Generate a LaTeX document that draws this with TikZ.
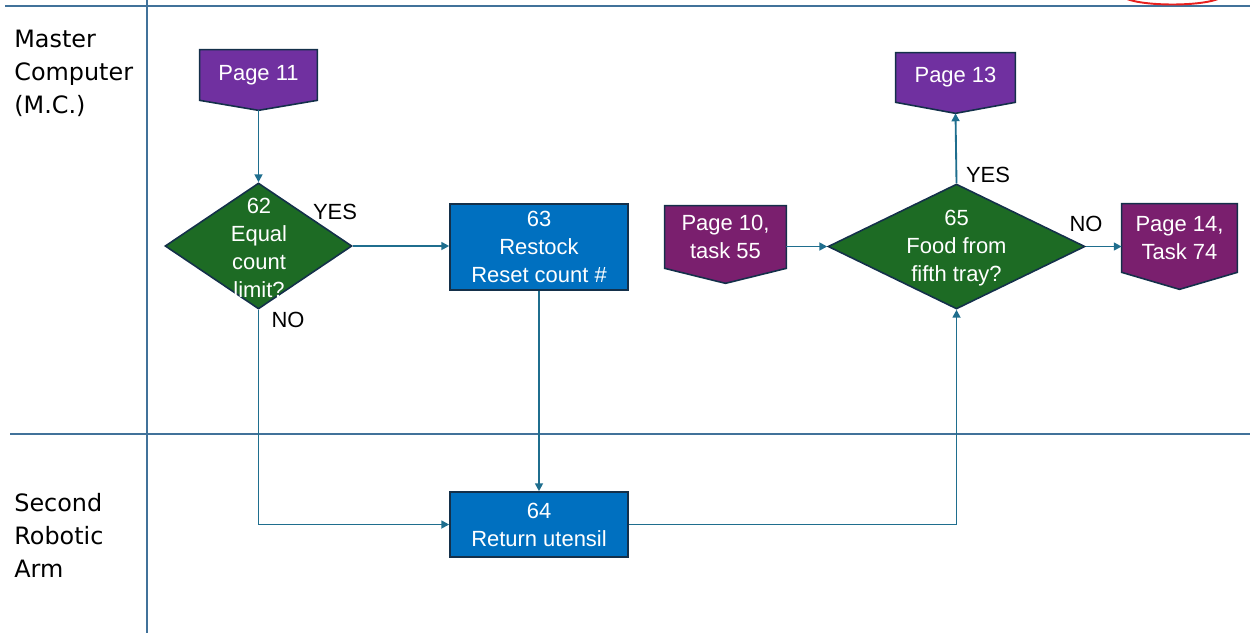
\documentclass[tikz,border=0pt]{standalone}
\usepackage{fontspec}
\setmainfont{Liberation Sans}
\newfontfamily\lanefont{DejaVu Sans}
\usetikzlibrary{shapes.geometric,arrows.meta,calc,backgrounds}

\definecolor{lane}{HTML}{41729A}
\definecolor{flow}{HTML}{1F6E8E}
\definecolor{edge}{HTML}{14304A}
\definecolor{violet}{HTML}{7030A0}
\definecolor{plum}{HTML}{7A1F6E}
\definecolor{decide}{HTML}{1D6B24}
\definecolor{task}{HTML}{0070C0}
\definecolor{ringred}{HTML}{E8201E}

\tikzset{
  txt/.style={font=\fontsize{12.5}{15.9}\selectfont, inner sep=0pt, align=center},
  lanetxt/.style={font=\lanefont\fontsize{13.6}{18.8}\selectfont, inner sep=0pt, align=left, anchor=west},
  taskbox/.style={draw=edge, line width=0.9pt, fill=task, text=white,
    font=\fontsize{12.5}{15.9}\selectfont, align=center, inner sep=0pt},
  decision/.style={diamond, draw=edge, line width=0.9pt, fill=decide, inner sep=0pt},
  pagelink/.style={txt, text=white},
  flowline/.style={draw=flow, line width=1.05pt, -{Triangle[length=4.5pt,width=4.5pt]}},
  lanerule/.style={draw=lane, line width=0.85pt},
}

% off-page connector: box with a pointed bottom, filled behind its label
\newcommand{\offpage}[3]{%
  \begin{scope}[on background layer]
    \fill[#3, draw=edge, line width=0.9pt]
      (#1.north west) -- (#1.north east) -- (#1.south east)
      -- ($(#1.south)+(0,#2)$) -- (#1.south west) -- cycle;
  \end{scope}
  \coordinate (#1tip) at ($(#1.south)+(0,#2)$);%
}

\begin{document}
\begin{tikzpicture}[x=0.02cm, y=-0.02cm]
  \useasboundingbox (0,0) rectangle (1250,633);

  % swimlane rules
  \draw[lanerule] (5,6) -- (1250,6);
  \draw[lanerule] (10,434) -- (1250,434);
  \draw[lanerule] (147,0) -- (147,633);

  % lane titles
  \node[lanetxt] (laneA) at (14,73) {Master\\Computer\\(M.C.)};
  \node[lanetxt] (laneB) at (14,535) {Second\\Robotic\\Arm};

  % off-page links
  \node[pagelink, minimum width=2.34cm, minimum height=1.0cm] (p11) at (258.5,75) {Page 11};
  \offpage{p11}{10}{violet}
  \node[pagelink, minimum width=2.38cm, minimum height=0.98cm] (p13) at (955.5,77.5) {Page 13};
  \offpage{p13}{11}{violet}
  \node[pagelink, minimum width=2.42cm, minimum height=1.24cm] (p10) at (725.5,237) {Page 10,\\task 55};
  \offpage{p10}{15}{plum}
  \node[pagelink, minimum width=2.3cm, minimum height=1.36cm] (p14) at (1179.5,238) {Page 14,\\Task 74};
  \offpage{p14}{17}{plum}

  % decisions
  \node[decision, minimum width=3.74cm, minimum height=2.52cm] (d62) at (258.5,246) {};
  \node[txt, text=white] (d62t) at (259,248) {62\\Equal\\count\\limit?};
  \node[decision, minimum width=5.14cm, minimum height=2.5cm] (d65) at (956.5,246.5) {};
  \node[txt, text=white] (d65t) at (956.5,248) {65\\Food from\\fifth tray?};

  % tasks
  \node[taskbox, minimum width=3.56cm, minimum height=1.72cm] (b63) at (539,247) {63\\Restock\\Reset count \#};
  \node[taskbox, minimum width=3.56cm, minimum height=1.3cm] (b64) at (539,524.5) {64\\Return utensil};

  % branch labels
  \node[txt] (yes62) at (335,212) {YES};
  \node[txt] (no62) at (288,320) {NO};
  \node[txt] (yes65) at (988,175) {YES};
  \node[txt] (no65) at (1086,224) {NO};

  % connectors
  \draw[flowline] (p11tip) -- (d62.north);
  \draw[flowline] (d62.east) -- (d62.east -| b63.west);
  \draw[flowline] (d62.south) |- (b64.west);
  \draw[flowline] (b63.south) -- (b64.north);
  \draw[flowline] (b64.east) -| (d65.south);
  \draw[flowline] (p10.east |- d65.west) -- (d65.west);
  \draw[flowline] (d65.east) -- (d65.east -| p14.west);
  \draw[flowline] (d65.north) -- (p13tip);

  % red ring at the top edge
  \begin{scope}
    \clip (0,0) rectangle (1250,633);
    \draw[ringred, line width=1.1pt] (1172.5,-5) ellipse [x radius=1.0cm, y radius=0.19cm];
  \end{scope}
\end{tikzpicture}
\end{document}
